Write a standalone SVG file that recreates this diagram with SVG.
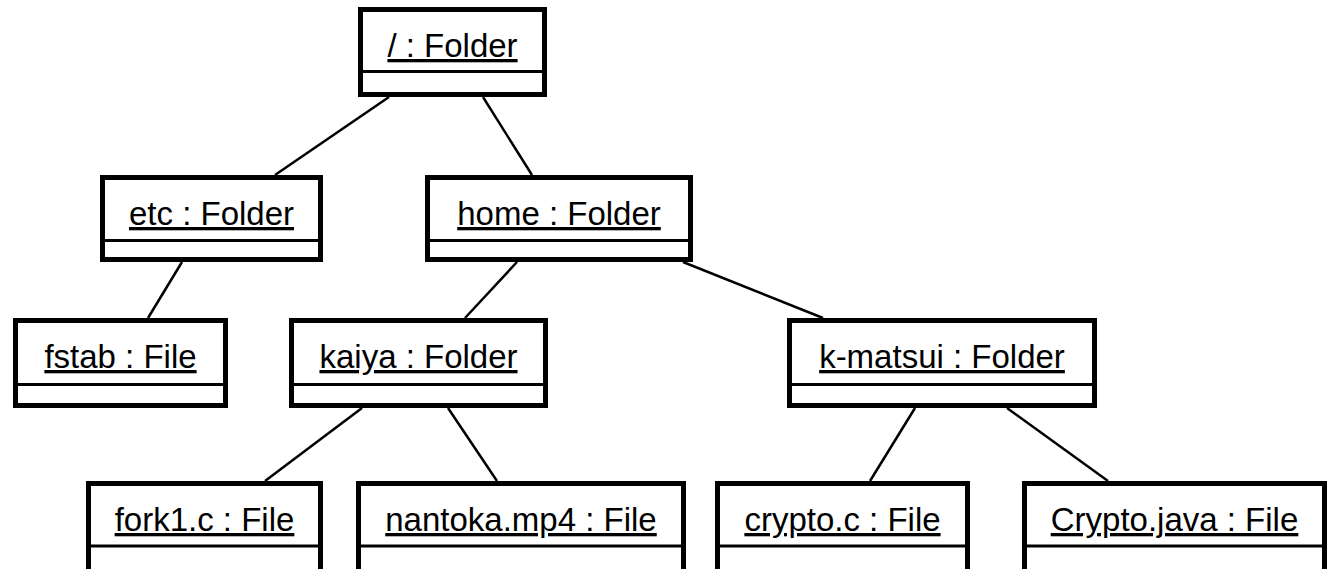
<svg xmlns="http://www.w3.org/2000/svg" width="1330" height="569" viewBox="0 0 1330 569">
<style>
.box{fill:#fff;stroke:#000;stroke-width:5}
.div{stroke:#000;stroke-width:3}
.lbl{font-family:"Liberation Sans",Arial,sans-serif;font-size:33px;fill:#000;text-anchor:middle;text-decoration:underline}
.conn line{stroke:#000;stroke-width:2.5}
</style>
<rect width="1330" height="569" fill="#fff"/>
<g id="connectors" class="conn">
<line x1="389" y1="97" x2="275" y2="175"/>
<line x1="483" y1="97" x2="532" y2="175"/>
<line x1="182" y1="262" x2="148" y2="318"/>
<line x1="517" y1="262" x2="465" y2="318"/>
<line x1="683" y1="262" x2="823" y2="318"/>
<line x1="362" y1="408" x2="265" y2="481"/>
<line x1="448" y1="408" x2="497" y2="481"/>
<line x1="915" y1="408" x2="870" y2="481"/>
<line x1="1007" y1="408" x2="1108" y2="481"/>
</g>
<g id="root">
<rect class="box" x="360.5" y="9.5" width="184" height="85"/>
<line class="div" x1="360.5" y1="71.5" x2="544.5" y2="71.5"/>
<text class="lbl" x="452.5" y="57">/ : Folder</text>
</g>
<g id="etc">
<rect class="box" x="102.5" y="177.5" width="218" height="82"/>
<line class="div" x1="102.5" y1="240.5" x2="320.5" y2="240.5"/>
<text class="lbl" x="211.5" y="225">etc : Folder</text>
</g>
<g id="home">
<rect class="box" x="427.5" y="177.5" width="263" height="82"/>
<line class="div" x1="427.5" y1="240.5" x2="690.5" y2="240.5"/>
<text class="lbl" x="559" y="225">home : Folder</text>
</g>
<g id="fstab">
<rect class="box" x="15.5" y="320.5" width="210" height="85"/>
<line class="div" x1="15.5" y1="384.5" x2="225.5" y2="384.5"/>
<text class="lbl" x="120.5" y="368">fstab : File</text>
</g>
<g id="kaiya">
<rect class="box" x="291.5" y="320.5" width="254" height="85"/>
<line class="div" x1="291.5" y1="384.5" x2="545.5" y2="384.5"/>
<text class="lbl" x="418.5" y="368">kaiya : Folder</text>
</g>
<g id="k-matsui">
<rect class="box" x="789.5" y="320.5" width="305" height="85"/>
<line class="div" x1="789.5" y1="384.5" x2="1094.5" y2="384.5"/>
<text class="lbl" x="942" y="368">k-matsui : Folder</text>
</g>
<g id="fork1c">
<rect class="box" x="88.5" y="483.5" width="232" height="88"/>
<line class="div" x1="88.5" y1="546" x2="320.5" y2="546"/>
<text class="lbl" x="204.5" y="531">fork1.c : File</text>
</g>
<g id="nantoka">
<rect class="box" x="358.5" y="483.5" width="325" height="88"/>
<line class="div" x1="358.5" y1="546" x2="683.5" y2="546"/>
<text class="lbl" x="521" y="531">nantoka.mp4 : File</text>
</g>
<g id="cryptoc">
<rect class="box" x="717.5" y="483.5" width="250" height="88"/>
<line class="div" x1="717.5" y1="546" x2="967.5" y2="546"/>
<text class="lbl" x="842.5" y="531">crypto.c : File</text>
</g>
<g id="cryptojava">
<rect class="box" x="1024.5" y="483.5" width="300" height="88"/>
<line class="div" x1="1024.5" y1="546" x2="1324.5" y2="546"/>
<text class="lbl" x="1174.5" y="531">Crypto.java : File</text>
</g>
</svg>
